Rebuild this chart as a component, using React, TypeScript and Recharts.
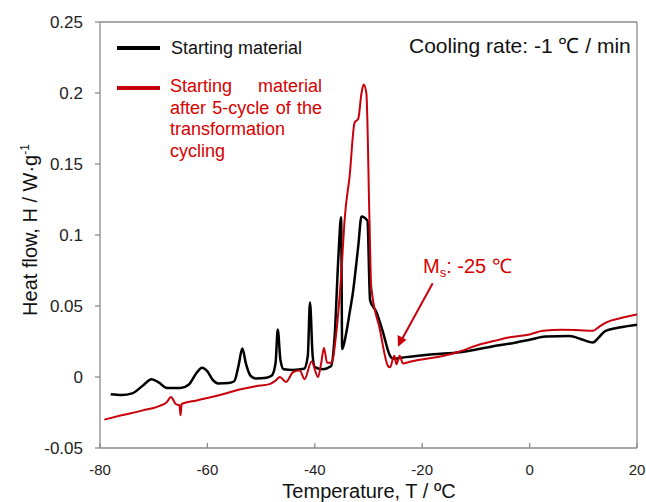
import { LineChart, Line, XAxis, YAxis, ReferenceLine } from "recharts";

// DSC cooling curves, heat flow (W/g) vs temperature (°C)
const blackTemp = [
  -78.0, -76.0, -74.0, -72.0, -70.4, -69.0, -67.5, -65.0, -63.5, -62.0, -61.0, -60.0, -59.0, -58.0,
  -56.0, -55.0, -54.2, -53.5, -52.8, -52.0, -51.0, -49.0, -48.0, -47.3, -46.9, -46.4, -45.8, -44.0,
  -42.0, -41.3, -40.9, -40.4, -40.0, -38.5, -37.0, -36.3, -35.6, -35.1, -34.9, -34.2, -33.5, -32.9,
  -31.9, -31.3, -30.2, -29.7, -28.5, -27.3, -26.0, -25.4, -23.0, -18.0, -13.0, -7.0, -3.0, 0.0, 3.0,
  7.4, 9.5, 11.0, 11.8, 12.8, 14.0, 17.0, 20.0,
];
const blackHeat = [
  -0.0122, -0.0127, -0.0115, -0.006, -0.0015, -0.004, -0.0078, -0.0078, -0.0055, 0.003, 0.0065, 0.004,
  -0.002, -0.0045, -0.0042, -0.003, 0.008, 0.02, 0.009, 0.001, -0.001, -0.0005, 0.001, 0.01, 0.0335,
  0.012, 0.0055, 0.005, 0.0058, 0.015, 0.0525, 0.015, 0.007, 0.0055, 0.0075, 0.029, 0.085, 0.1125,
  0.0197, 0.03, 0.0455, 0.0596, 0.0925, 0.113, 0.11, 0.054, 0.0455, 0.0315, 0.015, 0.0128, 0.014,
  0.016, 0.0175, 0.0215, 0.024, 0.0262, 0.0285, 0.0288, 0.0268, 0.0248, 0.0243, 0.0275, 0.0322, 0.035,
  0.0368,
];

const redTemp = [
  -79.2, -76.0, -72.0, -69.0, -67.5, -66.8, -65.9, -65.2, -65.0, -64.8, -62.0, -60.0, -57.0, -54.0,
  -51.0, -48.4, -47.3, -46.5, -45.4, -44.0, -42.8, -41.9, -40.6, -39.4, -38.8, -38.3, -37.7, -36.9,
  -36.0, -35.1, -34.4, -33.5, -32.6, -31.9, -31.3, -30.9, -30.4, -29.8, -29.5, -27.9, -26.4, -26.0,
  -25.2, -24.8, -24.2, -23.6, -22.3, -19.0, -16.0, -13.0, -10.0, -6.5, -3.7, 0.0, 2.5, 6.0, 8.7, 11.8,
  13.0, 14.3, 17.0, 20.0,
];
const redHeat = [
  -0.03, -0.027, -0.0235, -0.0205, -0.0175, -0.014, -0.019, -0.02, -0.027, -0.019, -0.0165, -0.0148,
  -0.012, -0.0088, -0.0065, -0.005, -0.0025, 0.0, -0.0035, 0.0035, 0.0045, -0.0015, 0.011, 0.0, 0.01,
  0.0205, 0.01, 0.01, 0.031, 0.071, 0.113, 0.142, 0.179, 0.182, 0.2, 0.206, 0.2, 0.107, 0.064, 0.0338,
  0.008, 0.0068, 0.015, 0.009, 0.015, 0.0095, 0.0108, 0.013, 0.015, 0.018, 0.022, 0.0255, 0.028, 0.03,
  0.0325, 0.0332, 0.0331, 0.0325, 0.0355, 0.0385, 0.0415, 0.044,
];

const xTicks = [-80, -60, -40, -20, 0, 20];
const yTicks = [-0.05, 0, 0.05, 0.1, 0.15, 0.2, 0.25];

const FONT = '"Liberation Sans", Arial, sans-serif';
const RED = "#c8000c";
const AXIS = "#8a8a8a";

export default function App() {
  const blackData = blackTemp.map((t, i) => ({ t, h: blackHeat[i] }));
  const redData = redTemp.map((t, i) => ({ t, h: redHeat[i] }));

  return (
    <div style={{ position: "absolute", left: 0, top: 0, width: 646, height: 502, background: "#fff", fontFamily: FONT }}>
      <LineChart width={646} height={502} margin={{ top: 22, right: 9, bottom: 0, left: 0 }}>
        <XAxis
          dataKey="t"
          type="number"
          domain={[-80, 20]}
          ticks={xTicks}
          allowDataOverflow
          height={54}
          stroke={AXIS}
          strokeWidth={1.3}
          tickSize={-5}
          tickMargin={21}
          tick={{ fontSize: 15, fill: "#222", fontFamily: FONT }}
          label={{
            content: () => (
              <text x={369} y={498} textAnchor="middle" fontSize={20} fill="#111" fontFamily={FONT}>
                Temperature, T / ºC
              </text>
            ),
          }}
        />
        <YAxis
          type="number"
          domain={[-0.05, 0.25]}
          ticks={yTicks}
          allowDataOverflow
          width={100}
          stroke={AXIS}
          strokeWidth={1.3}
          tickSize={5}
          tickMargin={12}
          tick={{ fontSize: 17, fill: "#222", fontFamily: FONT }}
          label={{
            content: () => (
              <text
                x={37}
                y={230}
                transform="rotate(-90 37 230)"
                textAnchor="middle"
                fontSize={20}
                fill="#111"
                fontFamily={FONT}
              >
                Heat flow, H / W·g
                <tspan dy={-8} fontSize={12}>-1</tspan>
              </text>
            ),
          }}
        />
        <ReferenceLine y={0.25} stroke={AXIS} strokeWidth={1.3} />
        <ReferenceLine x={20} stroke={AXIS} strokeWidth={1.3} />
        <Line data={blackData} dataKey="h" type="monotone" stroke="#000" strokeWidth={2.5} dot={false} isAnimationActive={false} />
        <Line data={redData} dataKey="h" type="monotone" stroke={RED} strokeWidth={2} dot={false} isAnimationActive={false} />
      </LineChart>

      {/* legend */}
      <div style={{ position: "absolute", left: 117, top: 46, width: 43, height: 4, background: "#000" }} />
      <div style={{ position: "absolute", left: 171, top: 38, fontSize: 18, lineHeight: "21.7px", color: "#111" }}>
        Starting material
      </div>
      <div style={{ position: "absolute", left: 117, top: 86, width: 43, height: 4, background: RED }} />
      <div
        style={{
          position: "absolute",
          left: 170,
          top: 76,
          width: 152,
          fontSize: 18,
          lineHeight: "21.7px",
          color: "#d80000",
          textAlign: "justify",
        }}
      >
        Starting material after 5-cycle of the transformation cycling
      </div>

      <div style={{ position: "absolute", left: 409, top: 34, fontSize: 21, lineHeight: "24px", color: "#111", whiteSpace: "nowrap" }}>
        Cooling rate: -1 ℃ / min
      </div>

      {/* Ms annotation */}
      <div style={{ position: "absolute", left: 423, top: 255, fontSize: 20, lineHeight: "23px", color: "#d80000", whiteSpace: "nowrap" }}>
        M<span style={{ fontSize: 13, position: "relative", top: 4 }}>s</span>: -25 ℃
      </div>
      <svg width={646} height={502} style={{ position: "absolute", left: 0, top: 0, pointerEvents: "none" }}>
        <line x1={432.7} y1={283.3} x2={401} y2={341} stroke={RED} strokeWidth={2} />
        <polygon points="398,346.7 397.6,335 406.5,339.8" fill={RED} />
      </svg>
    </div>
  );
}
